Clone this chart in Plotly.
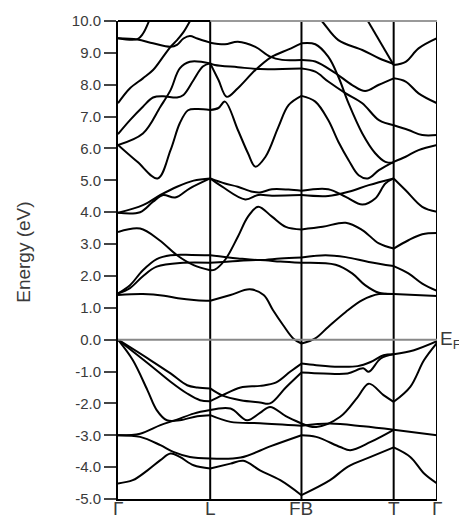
import plotly.graph_objects as go

# high-symmetry points along the path (Γ-L = 1)
k_nodes = [0, 1.0, 1.99, 2.99, 3.46]
k_labels = ["Γ", "L", "FB", "T", "Γ"]

# Γ -> L
gl_cond = [
    [(0, 1.40), (0.27, 1.43), (0.5, 1.38), (0.65, 1.30), (0.85, 1.24), (1, 1.22)],
    [(0, 1.45), (0.13, 1.62), (0.27, 1.99), (0.42, 2.29), (0.71, 2.41), (1, 2.41)],
    [(0, 1.45), (0.13, 1.71), (0.27, 2.18), (0.42, 2.53), (0.57, 2.65), (0.8, 2.66), (1, 2.65)],
    [(0, 3.38), (0.24, 3.49), (0.45, 3.12), (0.64, 2.65), (0.82, 2.34), (1, 2.18)],
    [(0, 3.98), (0.24, 4.0), (0.38, 4.33), (0.49, 4.54), (0.62, 4.46), (0.78, 4.75), (1, 5.06)],
    [(0, 3.98), (0.27, 4.22), (0.46, 4.54), (0.64, 4.8), (0.82, 4.99), (1, 5.06)],
    [(0, 6.11), (0.21, 5.58), (0.43, 5.06), (0.57, 5.95), (0.67, 6.79), (0.76, 7.2), (0.86, 7.24), (1, 7.21)],
    [(0, 6.11), (0.27, 6.47), (0.46, 7.31), (0.57, 7.83), (0.67, 8.51), (0.78, 8.72), (1, 8.67)],
    [(0, 6.45), (0.13, 6.89), (0.27, 7.31), (0.38, 7.6), (0.49, 7.64), (0.64, 7.6), (0.71, 7.68),
     (0.82, 8.15), (0.92, 8.57), (1, 8.67)],
    [(0, 7.42), (0.13, 7.89), (0.27, 8.2), (0.38, 8.46), (0.49, 8.88), (0.57, 9.19), (0.64, 9.4),
     (0.71, 9.65), (0.8, 10.1)],
    [(0, 9.46), (0.21, 9.42), (0.38, 9.3), (0.57, 9.19), (0.64, 9.25), (0.71, 9.45), (0.78, 9.53),
     (0.86, 9.45), (1, 9.32)],
    [(0, 9.46), (0.21, 9.43), (0.27, 9.6), (0.35, 10.1)],
]
gl_val = [
    [(0, 0), (0.35, -0.64), (0.57, -1.06), (0.75, -1.43), (0.86, -1.5), (1, -1.53)],
    [(0, 0), (0.35, -0.8), (0.57, -1.32), (0.75, -1.69), (0.89, -1.9), (1, -1.93)],
    [(0, 0), (0.16, -0.64), (0.32, -1.59), (0.42, -2.21), (0.53, -2.53), (0.67, -2.53),
     (0.86, -2.4), (1, -2.37)],
    [(0, -3.0), (0.24, -2.95), (0.46, -2.68), (0.64, -2.51), (0.82, -2.32), (1, -2.21)],
    [(0, -3.0), (0.24, -3.05), (0.46, -3.31), (0.6, -3.52), (0.78, -3.68), (1, -3.73)],
    [(0, -4.51), (0.16, -4.41), (0.32, -4.1), (0.46, -3.78), (0.57, -3.57), (0.67, -3.68),
     (0.82, -3.94), (1, -4.04)],
]

# L -> FB
lf_cond = [
    [(1, 1.22), (1.22, 1.40), (1.43, 1.58), (1.58, 1.40), (1.68, 0.93), (1.79, 0.46),
     (1.90, 0.04), (1.99, -0.12)],
    [(1, 2.41), (1.3, 2.47), (1.54, 2.5), (1.76, 2.45), (1.99, 2.41)],
    [(1, 2.65), (1.3, 2.55), (1.54, 2.5), (1.76, 2.55), (1.99, 2.58)],
    [(1, 2.18), (1.05, 2.2), (1.16, 2.5), (1.30, 3.23), (1.41, 3.86), (1.52, 4.17), (1.67, 3.86),
     (1.82, 3.54), (1.99, 3.46)],
    [(1, 5.06), (1.16, 4.9), (1.30, 4.8), (1.46, 4.64), (1.54, 4.62), (1.67, 4.72), (1.85, 4.71),
     (1.99, 4.67)],
    [(1, 5.06), (1.13, 4.8), (1.38, 4.4), (1.52, 4.54), (1.67, 4.52), (1.99, 4.54)],
    [(1, 7.21), (1.09, 7.27), (1.16, 7.47), (1.30, 6.58), (1.41, 5.85), (1.49, 5.43), (1.60, 5.74),
     (1.74, 6.68), (1.85, 7.36), (1.99, 7.65)],
    [(1, 8.67), (1.09, 8.15), (1.18, 7.62), (1.30, 7.89), (1.49, 8.46), (1.67, 8.88), (1.85, 9.11),
     (1.99, 9.3)],
    [(1, 8.67), (1.05, 8.62), (1.30, 8.55), (1.54, 8.49), (1.99, 8.51)],
    [(1, 9.32), (1.16, 9.27), (1.30, 9.35), (1.49, 9.19), (1.65, 8.88), (1.78, 8.78), (1.99, 8.78)],
]
lf_val = [
    [(1, -1.53), (1.13, -1.75), (1.33, -1.9), (1.54, -1.97), (1.65, -2.0), (1.82, -1.5), (1.99, -1.03)],
    [(1, -1.93), (1.13, -1.75), (1.33, -1.5), (1.54, -1.45), (1.71, -1.35), (1.87, -1.0), (1.99, -0.75)],
    [(1, -2.21), (1.22, -2.16), (1.40, -2.53), (1.54, -2.3), (1.65, -2.11), (1.82, -2.4), (1.99, -2.63)],
    [(1, -2.37), (1.22, -2.58), (1.54, -2.62), (1.99, -2.7)],
    [(1, -3.73), (1.33, -3.7), (1.65, -3.35), (1.99, -3.0)],
    [(1, -4.04), (1.22, -3.89), (1.36, -3.8), (1.54, -4.1), (1.76, -4.41), (1.99, -4.88)],
]

# FB -> T
ft_cond = [
    [(1.99, -0.12), (2.14, 0.04), (2.28, 0.4), (2.47, 0.87), (2.65, 1.24), (2.83, 1.43), (2.99, 1.43)],
    [(1.99, 2.41), (2.36, 2.35), (2.54, 2.08), (2.68, 1.71), (2.83, 1.47), (2.99, 1.43)],
    [(1.99, 2.58), (2.25, 2.65), (2.47, 2.59), (2.72, 2.44), (2.99, 2.31)],
    [(1.99, 3.46), (2.22, 3.54), (2.47, 3.67), (2.65, 3.44), (2.83, 3.02), (2.99, 2.86)],
    [(1.99, 4.67), (2.28, 4.72), (2.47, 4.48), (2.65, 4.24), (2.79, 4.43), (2.90, 4.9), (2.99, 5.06)],
    [(1.99, 4.54), (2.28, 4.51), (2.50, 4.64), (2.72, 4.85), (2.99, 5.06)],
    [(1.99, 7.65), (2.14, 7.47), (2.28, 6.89), (2.39, 6.21), (2.50, 5.64), (2.61, 5.16), (2.71, 5.06),
     (2.83, 5.32), (2.99, 5.58)],
    [(1.99, 9.3), (2.14, 9.27), (2.28, 8.88), (2.39, 8.25), (2.50, 7.42), (2.65, 6.47), (2.79, 5.85),
     (2.90, 5.58), (2.99, 5.55)],
    [(1.99, 8.78), (2.14, 8.73), (2.36, 8.36), (2.54, 7.99), (2.68, 7.8), (2.83, 8.0), (2.99, 8.2)],
    [(1.99, 8.51), (2.14, 8.41), (2.28, 8.1), (2.47, 7.73), (2.65, 7.42), (2.83, 6.89), (2.99, 6.73)],
    [(2.18, 10.1), (2.23, 9.93), (2.39, 9.4), (2.65, 9.09), (2.83, 8.83), (2.99, 8.65)],
    [(2.69, 10.1), (2.99, 8.62)],
]
ft_val = [
    [(1.99, -0.75), (2.15, -0.8), (2.39, -0.85), (2.60, -0.83), (2.74, -0.7), (2.88, -0.49), (2.99, -0.46)],
    [(1.99, -1.03), (2.23, -1.06), (2.49, -1.06), (2.66, -0.9), (2.72, -1.01), (2.85, -0.59), (2.99, -0.46)],
    [(1.99, -2.63), (2.15, -2.74), (2.41, -2.42), (2.60, -1.8), (2.72, -1.38), (2.88, -1.74), (2.99, -1.95)],
    [(1.99, -2.7), (2.30, -2.63), (2.66, -2.72), (2.99, -2.83)],
    [(1.99, -3.0), (2.15, -3.05), (2.41, -3.37), (2.52, -3.47), (2.74, -3.21), (2.99, -2.83)],
    [(1.99, -4.88), (2.30, -4.41), (2.49, -3.99), (2.74, -3.68), (2.99, -3.38)],
]

# T -> Γ
tg_cond = [
    [(2.99, 1.43), (3.46, 1.37)],
    [(2.99, 2.31), (3.15, 2.08), (3.30, 1.76), (3.46, 1.53)],
    [(2.99, 2.86), (3.15, 3.12), (3.30, 3.31), (3.46, 3.35)],
    [(2.99, 5.06), (3.12, 4.69), (3.30, 4.17), (3.46, 4.01)],
    [(2.99, 5.58), (3.12, 5.74), (3.26, 5.95), (3.46, 6.11)],
    [(2.99, 6.73), (3.15, 6.58), (3.30, 6.42), (3.46, 6.42)],
    [(2.99, 8.2), (3.12, 8.1), (3.26, 7.73), (3.46, 7.42)],
    [(2.99, 8.62), (3.12, 8.72), (3.26, 9.14), (3.46, 9.46)],
]
tg_val = [
    [(2.99, -0.46), (3.21, -0.33), (3.46, -0.05)],
    [(2.99, -1.95), (3.17, -1.48), (3.32, -0.64), (3.46, -0.1)],
    [(2.99, -2.83), (3.46, -3.0)],
    [(2.99, -3.38), (3.17, -3.68), (3.32, -4.2), (3.46, -4.51)],
]

FONT = "Liberation Sans, Arial, sans-serif"
TXT = "#3a3a3a"

fig = go.Figure()

for band in gl_cond + gl_val + lf_cond + lf_val + ft_cond + ft_val + tg_cond + tg_val:
    ks = [p[0] for p in band]
    es = [p[1] for p in band]
    fig.add_trace(go.Scatter(
        x=ks, y=es, mode="lines",
        line=dict(color="black", width=2, shape="spline", smoothing=1.0),
        hoverinfo="skip", showlegend=False,
    ))

# vertical lines at the high-symmetry points
for kv in k_nodes[1:]:
    fig.add_shape(type="line", xref="x", yref="paper", x0=kv, x1=kv, y0=0, y1=1,
                  line=dict(color="black", width=2))

# top frame: black over Γ-L, grey beyond
fig.add_shape(type="line", xref="x", yref="paper", x0=k_nodes[1], x1=k_nodes[-1], y0=1, y1=1,
              line=dict(color="#999999", width=2))
fig.add_shape(type="line", xref="x", yref="paper", x0=0, x1=k_nodes[1], y0=1, y1=1,
              line=dict(color="black", width=2))

# Fermi level
fig.add_shape(type="line", xref="x", yref="y", x0=0, x1=k_nodes[-1], y0=0, y1=0,
              line=dict(color="#888888", width=2))

fig.add_annotation(text="E<sub>F</sub>", xref="paper", yref="y", x=1.0, y=0,
                   xanchor="left", yanchor="middle", xshift=1, showarrow=False,
                   font=dict(family=FONT, size=19, color=TXT))

fig.add_annotation(text="Energy (eV)", xref="paper", yref="paper", x=-0.295, y=0.517,
                   xanchor="center", yanchor="middle", textangle=-90, showarrow=False,
                   font=dict(family=FONT, size=19, color=TXT))

# k-point labels sit tight under the axis (cut by the page edge, as in the original)
for kv, lab in zip(k_nodes, k_labels):
    fig.add_annotation(text=lab, xref="x", yref="paper", x=kv, y=0,
                       xanchor="center", yanchor="top", yshift=3, showarrow=False,
                       font=dict(family=FONT, size=19, color=TXT))

fig.update_xaxes(
    range=[0, k_nodes[-1]], showticklabels=False,
    showgrid=False, zeroline=False, showline=True, linecolor="black", linewidth=2,
    ticks="", automargin=False,
)
fig.update_yaxes(
    range=[-5, 10], tickvals=list(range(-5, 11)),
    ticktext=[f"{v:.1f}" for v in range(-5, 11)],
    showgrid=False, zeroline=False, showline=True, linecolor="black", linewidth=2,
    ticks="outside", ticklen=12, tickwidth=2, tickcolor="#444444",
    tickfont=dict(family=FONT, size=15, color=TXT), automargin=False,
)

# the page body adds an 8 px margin, so the figure is 8 px smaller each way
fig.update_layout(
    width=459, height=511,
    margin=dict(l=110, r=30, t=13, b=20),
    paper_bgcolor="white", plot_bgcolor="white",
    showlegend=False,
)

fig.write_html("out.html")
